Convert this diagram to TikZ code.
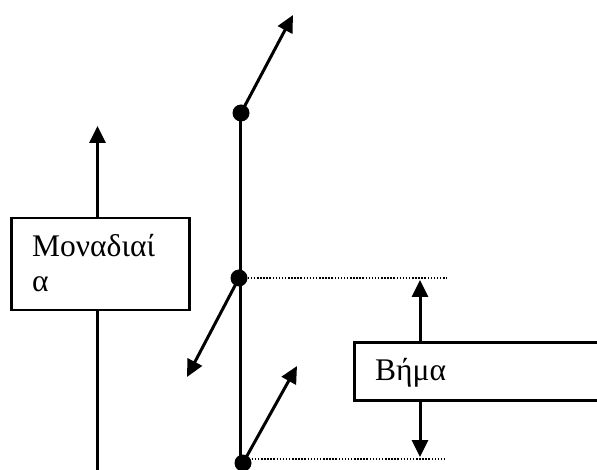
\documentclass[tikz,border=0pt]{standalone}
\usepackage{fontspec}
\setmainfont{Liberation Serif}
\usetikzlibrary{arrows.meta}
\tikzset{
  vec/.style={line width=3pt, -{Triangle[length=17pt,width=16pt]}},
  rod/.style={line width=3pt},
  joint/.style={circle, fill=black, inner sep=0pt, minimum size=17pt},
  label box/.style={draw, line width=2.5pt, fill=white, inner sep=0pt},
  guide/.style={line width=1.5pt, dash pattern=on 1.5pt off 1.6pt},
  txt/.style={font=\fontsize{31.5}{36}\selectfont, inner sep=0pt}
}
\begin{document}
\begin{tikzpicture}[x=1pt,y=-1pt]
  \useasboundingbox (0,0) rectangle (597,470);

  % unit vector axis on the left
  \coordinate (axisbot) at (97.5,475);
  \coordinate (axistip) at (97.5,126);
  \draw[vec] (axisbot) -- (axistip);
  \node[label box, minimum width=178pt, minimum height=92pt, anchor=north west] (unitbox) at (10,217) {};
  \node[txt, anchor=base west] (unit1) at (32,257) {Μοναδιαί};
  \node[txt, anchor=base west] (unit2) at (32,292) {α};

  % lattice rod with three joints
  \node[joint] (j1) at (241,113) {};
  \node[joint] (j2) at (239,278) {};
  \node[joint] (j3) at (243,463) {};
  \draw[rod] (240.5,113) -- (240.5,463);

  % spin arrows at the joints
  \coordinate (t1) at (293,15);
  \coordinate (t2) at (187,377);
  \coordinate (t3) at (297,366);
  \draw[vec] (j1.center) -- (t1);
  \draw[vec] (j2.center) -- (t2);
  \draw[vec] (j3.center) -- (t3);

  % dotted guides marking the step
  \coordinate (g2) at (447,278);
  \coordinate (g3) at (447,459);
  \draw[guide] (j2.east) -- (g2);
  \draw[guide] (j3.east |- g3) -- (g3);

  % step label with its two arrows
  \node[label box, minimum width=260pt, minimum height=58pt, anchor=north west] (stepbox) at (353,341) {};
  \node[txt, anchor=base west] (steptext) at (375,380) {Βήμα};
  \coordinate (su) at (420,280);
  \coordinate (sd) at (420,457);
  \draw[vec] (stepbox.north west -| su) -- (su);
  \draw[vec] (stepbox.south west -| sd) -- (sd);
\end{tikzpicture}
\end{document}
